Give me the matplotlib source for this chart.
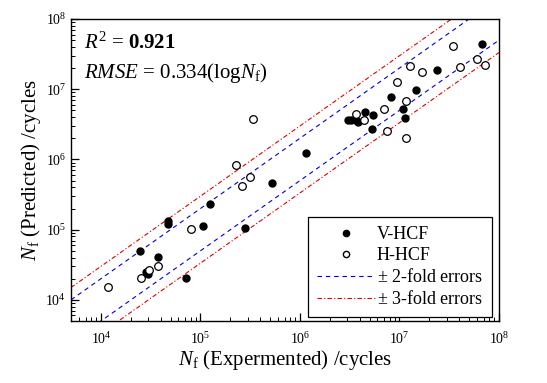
import numpy as np
import matplotlib
matplotlib.use("Agg")
import matplotlib.pyplot as plt
from matplotlib.ticker import LogLocator, NullFormatter
from matplotlib.lines import Line2D

plt.rcParams['font.family'] = ['Liberation Serif', 'DejaVu Serif']
plt.rcParams['mathtext.fontset'] = 'custom'
plt.rcParams['mathtext.rm'] = 'Liberation Serif'
plt.rcParams['mathtext.it'] = 'Liberation Serif:italic'
plt.rcParams['mathtext.bf'] = 'Liberation Serif:bold'

# V-HCF (filled) : experimental vs predicted cycles
v_exp = [6.78e7, 2.37e7, 1.46e7, 8.24e6, 1.08e7, 4.50e6, 5.40e6, 1.14e7,
         3.04e6, 3.24e6, 3.72e6, 3.84e6, 5.31e6, 1.14e6, 5.24e5, 1.26e5,
         4.70e4, 4.70e4, 1.05e5, 2.79e5, 2.47e4, 3.76e4, 2.81e4, 2.94e4, 7.08e4]
v_pred = [4.45e7, 1.87e7, 9.84e6, 7.87e6, 5.24e6, 4.73e6, 4.36e6, 3.93e6,
          3.67e6, 3.59e6, 3.52e6, 3.44e6, 2.69e6, 1.22e6, 4.60e5, 2.31e5,
          1.34e5, 1.21e5, 1.13e5, 1.05e5, 4.99e4, 4.10e4, 2.47e4, 2.31e4, 2.08e4]
# H-HCF (open)
h_exp = [3.41e7, 6.07e7, 7.26e7, 4.06e7, 1.29e7, 1.70e7, 9.35e6, 1.17e7,
         6.97e6, 3.68e6, 4.41e6, 7.46e6, 1.15e7, 3.35e5, 2.29e5, 3.16e5,
         2.61e5, 8.07e4, 3.76e4, 3.03e4, 2.50e4, 1.19e4]
h_pred = [4.07e7, 2.72e7, 2.18e7, 2.05e7, 2.11e7, 1.76e7, 1.25e7, 6.79e6,
          5.15e6, 4.41e6, 3.59e6, 2.56e6, 1.99e6, 3.72e6, 8.20e5, 5.66e5,
          4.24e5, 1.02e5, 3.02e4, 2.62e4, 2.08e4, 1.53e4]

xlim = [5e3, 1e8]
ylim = [5e3, 1e8]

fig = plt.figure(figsize=(5.47, 3.83), dpi=100)
ax = fig.add_axes([71/547, 1-321/383, (499-71)/547, (321-19)/383])

blue_ls = (0, (4, 3.5))
red_ls = (0, (4, 2, 1, 2))
ref = np.array(xlim)
ax.plot(ref, ref*2, color='#0000cc', ls=blue_ls, lw=0.8)
ax.plot(ref, ref/2, color='#0000cc', ls=blue_ls, lw=0.8)
ax.plot(ref, ref*3, color='#dd0000', ls=red_ls, lw=0.8)
ax.plot(ref, ref/3, color='#dd0000', ls=red_ls, lw=0.8)

ax.plot(v_exp, v_pred, 'o', ms=5, mfc='black', mec='black', ls='none')
ax.plot(h_exp, h_pred, 'o', ms=5.5, mfc='white', mec='black', mew=0.9, ls='none')

ax.set_xscale('log')
ax.set_yscale('log')
ax.set_xlim(xlim)
ax.set_ylim(ylim)

ax.xaxis.set_major_locator(LogLocator(base=10, numticks=10))
ax.yaxis.set_major_locator(LogLocator(base=10, numticks=10))
ax.xaxis.set_minor_locator(LogLocator(base=10, subs=np.arange(2, 10), numticks=20))
ax.yaxis.set_minor_locator(LogLocator(base=10, subs=np.arange(2, 10), numticks=20))
ax.xaxis.set_minor_formatter(NullFormatter())
ax.yaxis.set_minor_formatter(NullFormatter())
ax.tick_params(which='both', direction='in', top=False, right=False, labelsize=10)
ax.tick_params(which='major', length=6, width=0.9)
ax.tick_params(which='minor', length=3, width=0.7)
ax.tick_params(axis='x', which='major', pad=7)
for s in ax.spines.values():
    s.set_linewidth(1.0)

ax.set_xlabel(r'$N_\mathrm{f}$ (Expermented) /cycles', fontsize=15, labelpad=1)
ax.set_ylabel(r'$N_\mathrm{f}$ (Predicted) /cycles', fontsize=15, labelpad=2)

ax.text(0.03, 0.955, r'$R^2$ = $\mathbf{0.921}$', transform=ax.transAxes, fontsize=15, va='top', ha='left')
ax.text(0.03, 0.86, r'$RMSE$ = 0.334(log$N_\mathrm{f}$)', transform=ax.transAxes, fontsize=15, va='top', ha='left')

handles = [
    Line2D([], [], marker='o', ls='none', ms=4.5, mfc='black', mec='black'),
    Line2D([], [], marker='o', ls='none', ms=4.5, mfc='white', mec='black'),
    Line2D([], [], color='#0000cc', ls=blue_ls, lw=0.8),
    Line2D([], [], color='#dd0000', ls=red_ls, lw=0.8),
]
labels = ['V-HCF', 'H-HCF', r'$\pm$ 2-fold errors', r'$\pm$ 3-fold errors']
leg = ax.legend(handles, labels, loc='lower right', fontsize=13, frameon=True,
                fancybox=False, edgecolor='black', framealpha=1,
                handlelength=3.2, handletextpad=0.1, labelspacing=0.22,
                borderpad=0.5, borderaxespad=0,
                bbox_to_anchor=((492-71)/428, 4/302))
leg.get_frame().set_linewidth(0.9)

fig.savefig('out.png', dpi=100)
